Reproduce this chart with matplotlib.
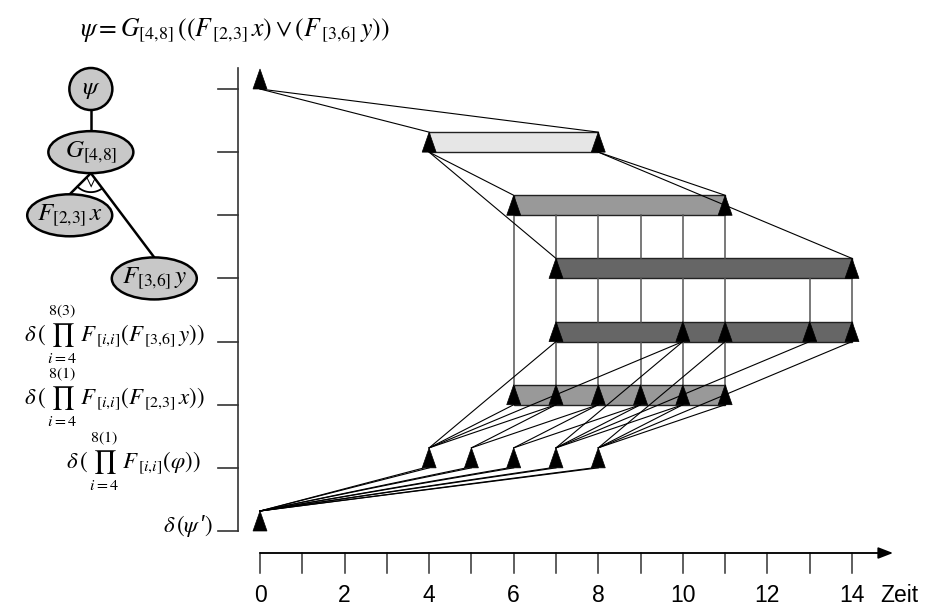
import numpy as np
import matplotlib.pyplot as plt
from matplotlib.patches import Ellipse, Polygon, Rectangle

plt.rcParams['mathtext.fontset'] = 'stix'
plt.rcParams['font.family'] = ['Liberation Sans', 'DejaVu Sans']

# --- Daten -----------------------------------------------------------
title = r'$\psi=G_{[4{,}8]}\,((F_{\,[2{,}3]}\,x)\vee(F_{\,[3{,}6]}\,y))$'

# Zeilen von oben (0) nach unten (7)
row_labels = {
    4: r'$\delta\,(\,\prod_{i=4}^{8(3)}\;F_{\,[i{,}i]}(F_{\,[3{,}6]}\,y))$',
    5: r'$\delta\,(\,\prod_{i=4}^{8(1)}\;F_{\,[i{,}i]}(F_{\,[2{,}3]}\,x))$',
    6: r'$\delta\,(\,\prod_{i=4}^{8(1)}\;F_{\,[i{,}i]}(\varphi))$',
    7: r"$\delta\,(\psi\,$′$)$",
}
label_right = {4: -1.30, 5: -1.30, 6: -1.40, 7: -1.12}

# Zeitpunkte (Dreiecke) je Zeile
marks = {
    0: [0],
    1: [4, 8],
    2: [6, 11],
    3: [7, 14],
    4: [7, 10, 11, 13, 14],
    5: [6, 7, 8, 9, 10, 11],
    6: [4, 5, 6, 7, 8],
    7: [0],
}

# Balken: Zeile, Beginn, Ende
bar_row = [1, 2, 3, 4, 5]
bar_start = [4, 6, 7, 7, 6]
bar_end = [8, 11, 14, 14, 11]
bar_fill = ['#e6e6e6', '#999999', '#666666', '#666666', '#999999']

# Verbindungen (zeile_a, t_a, zeile_b, t_b): Unterkante a -> Oberkante b
links = [
    (0, 0, 1, 4), (0, 0, 1, 8),
    (1, 4, 2, 6), (1, 4, 3, 7), (1, 8, 2, 11), (1, 8, 3, 14),
    (5, 6, 6, 4), (5, 7, 6, 4), (4, 7, 6, 4), (4, 10, 6, 4),
    (5, 7, 6, 5), (5, 8, 6, 5),
    (5, 8, 6, 6), (5, 9, 6, 6),
    (5, 9, 6, 7), (5, 10, 6, 7), (4, 10, 6, 7), (4, 13, 6, 7),
    (5, 10, 6, 8), (5, 11, 6, 8), (4, 11, 6, 8), (4, 14, 6, 8),
]
# vom Startknoten psi' (doppelt gezeichnet)
start_links = [(6, 4, 7, 0), (6, 5, 7, 0), (6, 6, 7, 0), (6, 7, 7, 0), (6, 8, 7, 0)]

# senkrechte Verbindungen
vlinks = [
    (2, 6, 5, 6),
    (2, 7, 3, 7), (2, 8, 3, 8), (2, 9, 3, 9), (2, 10, 3, 10), (2, 11, 3, 11),
    (3, 7, 4, 7), (3, 8, 4, 8), (3, 9, 4, 9), (3, 10, 4, 10), (3, 11, 4, 11),
    (3, 13, 4, 13), (3, 14, 4, 14),
    (4, 7, 5, 7), (4, 8, 5, 8), (4, 9, 5, 9), (4, 10, 5, 10), (4, 11, 5, 11),
]

# Formelbaum
node_text = [r'$\psi$', r'$G_{[4{,}8]}$', r'$F_{[2{,}3]}\,x$', r'$F_{[3{,}6]}\,y$']
node_x = [-4.0, -4.0, -4.5, -2.5]
node_row = [0, 1, 2, 3]
node_w = [43, 85, 85, 85]  # Pixel
tree_edges = [(0, 1), (1, 2), (1, 3)]

time_ticks = list(range(0, 15))
time_labels = [str(t) if t % 2 == 0 else '' for t in time_ticks]

# --- Geometrie -------------------------------------------------------
PX = (852 - 260) / 14.0      # Pixel je Zeiteinheit
PY = (531 - 89) / 7.0        # Pixel je Zeile
BH = 20 / PY                 # Balkenhöhe
HW = 7 / PX                  # halbe Dreiecksbreite
NH = 42 / PY                 # Knotenhöhe

fig = plt.figure(figsize=(9.3, 6.1), dpi=100)
ax = fig.add_axes([0, 0, 1, 1])
ax.set_xlim(-260 / PX, (930 - 260) / PX)
ax.set_ylim((610 - 89) / PY, -89 / PY)
ax.axis('off')

# Balken
for r, s, e, c in zip(bar_row, bar_start, bar_end, bar_fill):
    ax.add_patch(Rectangle((s, r - BH), e - s, BH, facecolor=c,
                           edgecolor='#222222', lw=1.0, zorder=1))

# senkrechte Linien
for a, ta, b, tb in vlinks:
    ax.plot([ta, tb], [a, b - BH], color='#555555', lw=1.1, zorder=2)

# schräge Linien
for a, ta, b, tb in links:
    ax.plot([ta, tb], [a, b - BH], color='black', lw=0.8, zorder=3)
for a, ta, b, tb in start_links:
    for off in (-0.12, 0.0):
        ax.plot([ta + off, tb], [a, b - BH], color='black', lw=0.8, zorder=3)

# Dreiecke
for r, ts in marks.items():
    for t in ts:
        ax.add_patch(Polygon([(t - HW, r), (t + HW, r), (t, r - BH)],
                             closed=True, facecolor='black',
                             edgecolor='black', lw=0.5, zorder=4))

# linke Achse mit Zeilenmarken
ax.plot([-0.52, -0.52], [-0.333, 7], color='#333333', lw=1.2)
for r in marks:
    ax.plot([-0.99, -0.52], [r, r], color='#333333', lw=1.2)

for r, s in row_labels.items():
    ax.text(label_right[r], r + 0.02, s, ha='right', va='baseline', fontsize=16.5)

# Zeitachse
y_ax = (553 - 89) / PY
ax.annotate('', xy=((893 - 260) / PX, y_ax), xytext=(0, y_ax),
            arrowprops=dict(arrowstyle='-|>,head_length=0.9,head_width=0.35',
                            color='black', lw=1.2, shrinkA=0, shrinkB=0))
ax.plot([0, 14.6], [y_ax, y_ax], color='#555555', lw=1.2)
for t, lab in zip(time_ticks, time_labels):
    ax.plot([t, t], [y_ax, y_ax + 20 / PY], color='#333333', lw=1.1)
    if lab:
        ax.text(t, (595 - 89) / PY, lab, ha='center', va='center', fontsize=16.5)
ax.text((880 - 260) / PX, (595 - 89) / PY, 'Zeit', ha='left', va='center',
        fontsize=16.5)

# Formelbaum
for p, c in tree_edges:
    ax.plot([node_x[p], node_x[c]], [node_row[p] + NH / 2, node_row[c] - NH / 2],
            color='black', lw=1.8, zorder=5)
for txt, x, r, w in zip(node_text, node_x, node_row, node_w):
    ax.add_patch(Ellipse((x, r), w / PX, NH, facecolor='#c8c8c8',
                         edgecolor='black', lw=1.8, zorder=6))
    ax.text(x, r, txt, ha='center', va='center', fontsize=18, zorder=7)

# Oder-Bogen unter G
px0, py0 = node_x[1], node_row[1] + NH / 2
ang = [np.arctan2((node_row[c] - NH / 2 - py0) * PY, (node_x[c] - px0) * PX)
       for c in (2, 3)]
a = np.linspace(ang[1], ang[0], 40)
ax.plot(px0 + 19 * np.cos(a) / PX, py0 + 19 * np.sin(a) / PY,
        color='black', lw=1.3, zorder=5)
ax.text(px0, py0 + 9 / PY, r'$\vee$', ha='center', va='center', fontsize=12,
        zorder=5)

ax.text((80 - 260) / PX, (30 - 89) / PY, title, ha='left', va='center',
        fontsize=18.5)

fig.savefig('out.png', dpi=100)
